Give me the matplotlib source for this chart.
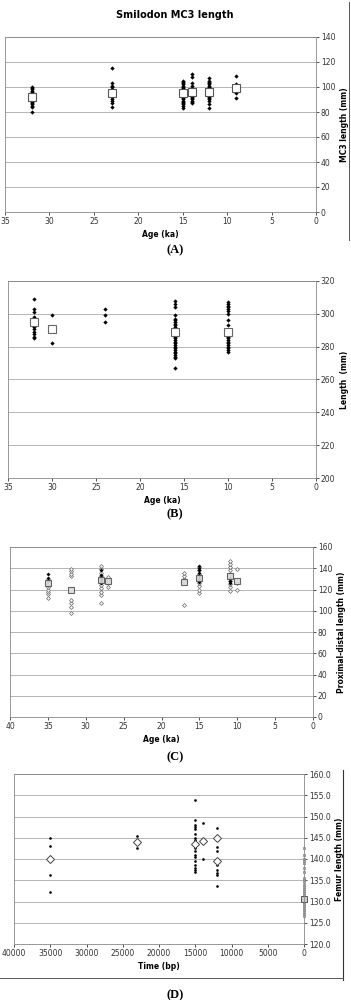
import matplotlib.pyplot as plt
from matplotlib.ticker import FormatStrFormatter
from matplotlib.lines import Line2D

# ---------------- DATA ----------------
# (A) MC3 length, age in ka
a_ages = [32, 23, 15, 14, 12, 9]
a_vals = [
    [80, 84, 85, 86, 87, 88, 89, 90, 91, 92, 93, 94, 95, 96, 97, 98, 99, 100],
    [84, 87, 89, 90, 92, 93, 94, 95, 96, 97, 98, 100, 101, 103, 115],
    [83, 85, 86, 87, 88, 89, 90, 91, 92, 93, 94, 95, 96, 97, 98, 99, 100, 101, 102, 103, 104, 105],
    [87, 88, 89, 90, 91, 92, 93, 94, 95, 96, 97, 98, 99, 101, 103, 108, 110],
    [83, 86, 89, 90, 91, 92, 93, 94, 95, 96, 97, 98, 99, 100, 101, 102, 103, 104, 105, 107],
    [91, 95, 99, 102, 109],
]
a_mean_ages = [32, 23, 15, 14, 12, 9]
a_means = [92.3, 95, 95, 95.7, 96.3, 99]

# (B) length, age in ka
b_ages = [32, 30, 24, 16, 10]
b_vals = [
    [285, 286, 288, 289, 291, 292, 293, 294, 296, 297, 298, 301, 303, 309],
    [282, 299],
    [295, 299, 303],
    [267, 273, 274, 275, 276, 277, 278, 279, 280, 281, 282, 283, 284, 285, 286, 287,
     288, 289, 290, 291, 292, 293, 294, 295, 296, 297, 299, 304, 306, 308],
    [277, 278, 279, 280, 281, 282, 283, 284, 285, 286, 287, 290, 293, 296, 300, 302,
     303, 304, 305, 306, 307],
]
b_mean_ages = [32, 30, 16, 10]
b_means = [295, 290.5, 289, 289]

# (C) proximal-distal length, age in ka
c_ages = [35, 32, 28, 27, 17, 15, 11, 10]
c_open = [
    [112, 116, 118, 120, 122, 124, 126, 128, 130],
    [98, 104, 107, 110, 133, 135, 137, 139],
    [107, 115, 118, 121, 124, 127, 130, 133, 136, 139, 142],
    [122, 126, 128, 130, 132],
    [105, 127, 130, 133, 136],
    [117, 120, 123, 126, 129, 132, 135, 138, 141],
    [119, 122, 125, 128, 131, 135, 138, 141, 144, 147],
    [120, 126, 139],
]
c_filled = [
    [128, 131, 135],
    [],
    [126, 128, 130, 132, 134, 138],
    [],
    [],
    [127, 130, 133, 136, 138, 140, 142],
    [126, 128, 131],
    [],
]
c_means = [126, 120, 129, 128, 127, 131, 133, 128]

# (D) femur length, time in years bp
d_ages = [35000, 23000, 15000, 14000, 12000]
d_vals = [
    [132.3, 136.2, 143, 145],
    [142.6, 145.4],
    [137, 137.5, 138, 138.5, 139.5, 140.5, 141, 142, 142.5, 143, 144, 144.5, 145,
     146, 147, 147.5, 148, 149.2, 153.8],
    [140, 148.4],
    [133.6, 136.3, 136.8, 137.5, 138.5, 141.8, 142.8, 144.5, 145.2, 147.2],
]
d_mean_ages = [35000, 23000, 15000, 14000, 12000, 12000]
d_means = [140, 144, 143.5, 144.2, 145, 139.5]
d_recent = [126.5, 127, 127.5, 128, 128.5, 129, 129.5, 130, 130.5, 131, 131.5, 132,
            132.5, 133, 133.5, 134, 134.5, 135, 135.5, 137, 138, 139, 139.5, 140,
            141, 142.5]
d_recent_mean = 130.5

# ---------------- FIGURE ----------------
fig = plt.figure(figsize=(3.51, 10), dpi=100)
W, H = 351, 1000

TICK = 5.5
TCOL = '#333333'


def make_ax(l, r, t, b, xlim, ylim, xstep, ystep, ylabel, xlabel, fmt=None):
    ax = fig.add_axes([l / W, 1 - b / H, (r - l) / W, (b - t) / H])
    ax.set_xlim(*xlim)
    ax.set_ylim(*ylim)
    lo, hi = sorted(xlim)
    ax.set_xticks(range(int(lo), int(hi) + 1, xstep))
    ax.set_yticks([ylim[0] + i * ystep for i in range(int((ylim[1] - ylim[0]) / ystep) + 1)])
    ax.yaxis.tick_right()
    ax.yaxis.set_label_position('right')
    ax.tick_params(labelsize=TICK, colors=TCOL, length=2, width=0.6, pad=1.5)
    ax.grid(axis='y', color='#aaaaaa', lw=0.6)
    ax.set_axisbelow(True)
    for s in ax.spines.values():
        s.set_color('#888888')
        s.set_linewidth(0.6)
    ax.set_ylabel(ylabel, fontsize=5.5, fontweight='bold', labelpad=3)
    ax.set_xlabel(xlabel, fontsize=5.5, fontweight='bold', labelpad=3)
    if fmt:
        ax.yaxis.set_major_formatter(FormatStrFormatter(fmt))
    return ax


# ---------------- (A) ----------------
fig.text(175 / W, 1 - 15 / H, 'Smilodon MC3 length', ha='center', va='center',
         fontsize=7, fontweight='bold')
axA = make_ax(5, 316, 37, 212, (35, 0), (0, 140), 5, 20, 'MC3 length (mm)', 'Age (ka)')
for age, vals in zip(a_ages, a_vals):
    axA.plot([age] * len(vals), vals, 'D', color='black', ms=2.2, mew=0)
axA.plot(a_mean_ages, a_means, 's', mfc='white', mec='#555555', ms=5.5, mew=0.8, ls='none')
fig.text(175 / W, 1 - 250 / H, '(A)', ha='center', va='center', fontsize=9,
         fontweight='bold', family='Liberation Serif')

# ---------------- (B) ----------------
axB = make_ax(8, 316, 281, 478, (35, 0), (200, 320), 5, 20, 'Length  (mm)', 'Age (ka)')
for age, vals in zip(b_ages, b_vals):
    axB.plot([age] * len(vals), vals, 'D', color='black', ms=2.2, mew=0)
axB.plot(b_mean_ages, b_means, 's', mfc='white', mec='#666666', ms=5.5, mew=0.8, ls='none')
fig.text(175 / W, 1 - 514 / H, '(B)', ha='center', va='center', fontsize=9,
         fontweight='bold', family='Liberation Serif')

# ---------------- (C) ----------------
axC = make_ax(10, 313, 547, 717, (40, 0), (0, 160), 5, 20, 'Proximal-distal length (mm)',
              'Age (ka)')
for age, op, fi in zip(c_ages, c_open, c_filled):
    axC.plot([age] * len(op), op, 'D', mfc='white', mec='#666666', ms=2, mew=0.5, ls='none')
    if fi:
        axC.plot([age] * len(fi), fi, 'D', color='black', ms=2, mew=0, ls='none')
axC.plot(c_ages, c_means, 's', mfc='#dddddd', mec='#555555', ms=4.5, mew=0.8, ls='none',
         alpha=0.9)
fig.text(175 / W, 1 - 757 / H, '(C)', ha='center', va='center', fontsize=9,
         fontweight='bold', family='Liberation Serif')

# ---------------- (D) ----------------
axD = make_ax(14, 304, 774, 944, (40000, 0), (120, 160), 5000, 5, 'Femur length (mm)',
              'Time (bp)', fmt='%.1f')
for age, vals in zip(d_ages, d_vals):
    axD.plot([age] * len(vals), vals, 'o', color='black', ms=1.9, mew=0)
axD.plot(d_mean_ages, d_means, 'D', mfc='white', mec='#444444', ms=4.5, mew=0.7, ls='none')
axD.plot([0] * len(d_recent), d_recent, 's', mfc='white', mec='#777777', ms=2, mew=0.5,
         ls='none', clip_on=False)
axD.plot([0], [d_recent_mean], 's', mfc='#cccccc', mec='#555555', ms=4.5, mew=0.7,
         clip_on=False)
fig.text(175 / W, 1 - 995 / H, '(D)', ha='center', va='center', fontsize=9,
         fontweight='bold', family='Liberation Serif')

# frame lines from the scan
fig.add_artist(Line2D([349 / W, 349 / W], [1 - 2 / H, 1 - 240 / H], color='#555555', lw=0.7))
fig.add_artist(Line2D([343 / W, 343 / W], [1 - 770 / H, 1 - 980 / H], color='#333333', lw=0.8))
fig.add_artist(Line2D([0, 343 / W], [1 - 978 / H, 1 - 978 / H], color='#555555', lw=0.7))

fig.savefig('out.png', dpi=100, facecolor='white')
